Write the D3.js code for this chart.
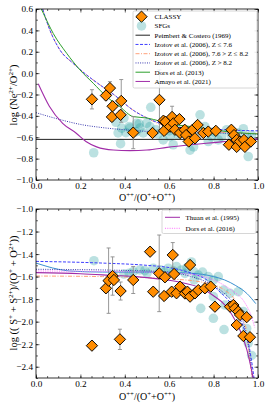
<!DOCTYPE html>
<html>
<head>
<meta charset="utf-8">
<script src="https://cdn.jsdelivr.net/npm/d3@7"></script>
<style>
body { margin: 0; background: #fff; }
text { font-family: "Liberation Serif", "DejaVu Serif", serif; }
</style>
</head>
<body>
<div id="chart"></div>
<script>
// ---------- top panel: log(Ne2+/O2+) ----------
var neClassyX = [0.252, 0.315, 0.333, 0.345, 0.342, 0.381, 0.384, 0.438, 0.525, 0.556, 0.574, 0.577, 0.583, 0.604, 0.613, 0.619, 0.626, 0.646, 0.649, 0.67, 0.676, 0.688, 0.705, 0.716, 0.728, 0.754, 0.776, 0.81, 0.869, 0.88, 0.892, 0.904, 0.904, 0.919, 0.937, 0.941, 0.968]
var neClassyY = [-0.245, -0.21, -0.14, -0.31, -0.41, -0.39, -0.26, -0.557, -0.56, -0.25, -0.445, -0.54, -0.455, -0.50, -0.41, -0.47, -0.53, -0.43, -0.56, -0.53, -0.58, -0.64, -0.53, -0.61, -0.485, -0.56, -0.547, -0.54, -0.67, -0.53, -0.58, -0.625, -0.69, -0.64, -0.625, -0.69, -0.64]
var neClassyErr = [0.09, 0.04, 0.06, 0.04, 0.04, 0.04, 0.2, 0.15, 0.03, 0.28, 0.03, 0.03, 0.03, 0.03, 0.1, 0.03, 0.03, 0.03, 0.03, 0.03, 0.03, 0.03, 0.03, 0.03, 0.03, 0.03, 0.03, 0.03, 0.03, 0.03, 0.03, 0.03, 0.03, 0.03, 0.03, 0.03, 0.03]

var neSfgX = [0.26, 0.36, 0.386, 0.405, 0.381, 0.42, 0.396, 0.37, 0.423, 0.453, 0.465, 0.468, 0.483, 0.498, 0.513, 0.517, 0.54, 0.588, 0.604, 0.573, 0.618, 0.64, 0.679, 0.694, 0.71, 0.739, 0.761, 0.776, 0.79, 0.821, 0.836, 0.859, 0.88, 0.911, 0.934, 0.956, 0.971, 0.95, 0.66, 0.72, 0.55, 0.60, 0.45, 0.63, 0.80]
var neSfgY = [-0.745, -0.46, -0.515, -0.557, -0.66, -0.50, -0.42, -0.56, -0.515, -0.47, -0.475, -0.515, -0.56, -0.47, -0.50, -0.32, -0.53, -0.50, -0.595, -0.625, -0.67, -0.58, -0.58, -0.72, -0.69, -0.39, -0.50, -0.64, -0.595, -0.625, -0.595, -0.53, -0.58, -0.56, -0.52, -0.78, -0.58, -0.60, -0.55, -0.55, -0.57, -0.54, -0.55, -0.51, -0.55]

var peimbertX = [0, 1]
var peimbertY = [-0.62, -0.62]
var izLowX = [0.03, 0.063, 0.108, 0.168, 0.228, 0.288, 0.35, 0.44, 0.50, 0.56, 0.62, 0.70, 0.80, 0.90, 1.0]
var izLowY = [0.6, 0.40, 0.216, 0.09, -0.017, -0.11, -0.2, -0.35, -0.42, -0.47, -0.50, -0.515, -0.525, -0.535, -0.54]
var izMidX = [0.03, 0.063, 0.108, 0.168, 0.228, 0.288, 0.35, 0.44, 0.50, 0.56, 0.62, 0.70, 0.80, 0.90, 1.0]
var izMidY = [0.6, 0.40, 0.216, 0.09, -0.017, -0.11, -0.2, -0.35, -0.42, -0.48, -0.52, -0.54, -0.55, -0.56, -0.565]
var izHighX = [0, 0.1, 0.2, 0.3, 0.4, 0.5, 0.6, 0.8, 1.0]
var izHighY = [-0.37, -0.43, -0.48, -0.51, -0.53, -0.545, -0.55, -0.56, -0.57]
var dors13X = [0.024, 0.033, 0.078, 0.138, 0.198, 0.258, 0.318, 0.378, 0.438, 0.50, 0.56, 0.634, 0.70, 0.87, 1.0]
var dors13Y = [0.6, 0.56, 0.37, 0.186, 0.03, -0.095, -0.22, -0.314, -0.407, -0.42, -0.45, -0.485, -0.50, -0.55, -0.57]
var amayoX = [0.01, 0.06, 0.12, 0.18, 0.225, 0.273, 0.348, 0.423, 0.50, 0.59, 0.70, 0.80, 0.90, 1.0]
var amayoY = [-0.10, -0.31, -0.47, -0.56, -0.64, -0.69, -0.72, -0.725, -0.72, -0.695, -0.67, -0.65, -0.63, -0.615]

// ---------- bottom panel: log((S+ + S2+)/(O+ + O2+)) ----------
var sClassyX = [0.252, 0.315, 0.327, 0.345, 0.351, 0.378, 0.381, 0.438, 0.514, 0.528, 0.555, 0.577, 0.581, 0.616, 0.622, 0.611, 0.633, 0.649, 0.671, 0.682, 0.694, 0.694, 0.716, 0.731, 0.761, 0.787, 0.806, 0.874, 0.889, 0.896, 0.911, 0.919, 0.949, 0.904, 0.934, 0.964]
var sClassyY = [-2.213, -1.704, -1.636, -1.595, -1.63, -2.157, -1.728, -1.63, -1.379, -1.734, -1.571, -1.772, -1.606, -1.408, -1.577, -1.734, -1.748, -1.689, -1.75, -1.734, -1.497, -1.778, -1.749, -1.72, -1.704, -1.689, -1.867, -1.867, -1.852, -1.882, -1.911, -1.94, -1.96, -2.03, -2.127, -2.138]
var sClassyErr = [0.03, 0.03, 0.29, 0.17, 0.03, 0.09, 0.08, 0.12, 0.03, 0.03, 0.34, 0.03, 0.03, 0.11, 0.03, 0.03, 0.03, 0.03, 0.03, 0.03, 0.03, 0.03, 0.03, 0.03, 0.03, 0.03, 0.03, 0.03, 0.03, 0.03, 0.03, 0.03, 0.03, 0.03, 0.03, 0.03]

var sSfgX = [0.261, 0.396, 0.348, 0.42, 0.438, 0.468, 0.49, 0.528, 0.56, 0.596, 0.633, 0.656, 0.671, 0.70, 0.71, 0.731, 0.712, 0.776, 0.799, 0.821, 0.845, 0.874, 0.911, 0.934, 0.949, 0.956, 0.971, 0.742, 0.799, 0.847, 0.799, 0.851, 0.62, 0.68, 0.75, 0.58, 0.50]
var sSfgY = [-1.459, -1.577, -1.586, -1.57, -1.556, -1.541, -1.547, -1.526, -1.54, -1.526, -1.511, -1.541, -1.571, -1.47, -1.556, -1.586, -1.63, -1.60, -1.63, -1.60, -1.72, -1.748, -1.734, -1.911, -2.06, -2.19, -2.30, -1.882, -1.97, -2.07, -1.778, -1.852, -1.55, -1.52, -1.56, -1.56, -1.57]

var thuanX = [0, 0.2, 0.35, 0.45, 0.55, 0.65, 0.74, 0.80, 0.85, 0.88, 0.92, 0.95, 0.97, 0.978]
var thuanY = [-1.565, -1.575, -1.59, -1.60, -1.62, -1.65, -1.70, -1.77, -1.85, -1.93, -2.08, -2.25, -2.42, -2.5]
var dors16X = [0, 0.5, 0.7, 0.8, 0.88, 0.94, 0.97, 0.985]
var dors16Y = [-1.55, -1.56, -1.58, -1.63, -1.72, -1.83, -1.95, -2.05]
var steelX = [0, 0.05, 0.1, 0.15, 0.3, 0.5, 0.7, 0.8, 0.85, 0.9, 0.95, 0.99]
var steelY = [-1.48, -1.51, -1.535, -1.55, -1.56, -1.56, -1.57, -1.60, -1.63, -1.68, -1.75, -1.84]
var sIzLowX = [0, 0.3, 0.5, 0.6, 0.7, 0.77, 0.82, 0.87, 0.91, 0.94, 0.96, 0.975, 0.982]
var sIzLowY = [-1.465, -1.48, -1.50, -1.52, -1.57, -1.63, -1.72, -1.82, -1.94, -2.08, -2.22, -2.40, -2.5]
var sIzHighX = [0, 0.4, 0.6, 0.7, 0.8, 0.86, 0.9, 0.93, 0.95, 0.965, 0.975]
var sIzHighY = [-1.535, -1.545, -1.56, -1.60, -1.68, -1.77, -1.86, -1.98, -2.14, -2.32, -2.5]
var sIzMidX = [0, 0.3, 0.6, 0.75, 0.85, 0.9, 0.93, 0.95, 0.967, 0.975]
var sIzMidY = [-1.595, -1.60, -1.62, -1.65, -1.72, -1.82, -1.95, -2.10, -2.40, -2.5]

var W = 269, H = 404
var left = 36, right = 258

var svg = d3.select("#chart").append("svg")
    .attr("width", W).attr("height", H)
    .style("font-family", '"Liberation Serif", serif')

function zip(xs, ys) { return xs.map(function(x, i) { return [x, ys[i]] }) }

function panel(top, bottom, yDomain, yMajor, id) {
    var x = d3.scaleLinear().domain([0, 1]).range([left, right])
    var y = d3.scaleLinear().domain(yDomain).range([bottom, top])
    var g = svg.append("g")

    g.append("clipPath").attr("id", id)
        .append("rect").attr("x", left).attr("y", top)
        .attr("width", right - left).attr("height", bottom - top)

    var plot = g.append("g").attr("clip-path", "url(#" + id + ")")

    // ticks (inward, all four sides)
    var fmt = d3.format(".1f")
    var xMajor = d3.range(0, 1.0001, 0.2)
    var xMinor = d3.range(0, 1.0001, 0.05)
    var yMinor = d3.range(yDomain[0], yDomain[1] + 0.0001, 0.1)

    g.append("g").attr("transform", "translate(0," + bottom + ")")
        .call(d3.axisBottom(x).tickValues(xMinor).tickSize(-2).tickFormat(""))
    g.append("g").attr("transform", "translate(0," + bottom + ")")
        .call(d3.axisBottom(x).tickValues(xMajor).tickSize(-3.5).tickPadding(2).tickFormat(fmt))
    g.append("g").attr("transform", "translate(0," + top + ")")
        .call(d3.axisTop(x).tickValues(xMinor).tickSize(-2).tickFormat(""))
    g.append("g").attr("transform", "translate(0," + top + ")")
        .call(d3.axisTop(x).tickValues(xMajor).tickSize(-3.5).tickFormat(""))
    g.append("g").attr("transform", "translate(" + left + ",0)")
        .call(d3.axisLeft(y).tickValues(yMinor).tickSize(-2).tickFormat(""))
    g.append("g").attr("transform", "translate(" + left + ",0)")
        .call(d3.axisLeft(y).tickValues(yMajor).tickSize(-3.5).tickPadding(3).tickFormat(fmt))
    g.append("g").attr("transform", "translate(" + right + ",0)")
        .call(d3.axisRight(y).tickValues(yMinor).tickSize(-2).tickFormat(""))
    g.append("g").attr("transform", "translate(" + right + ",0)")
        .call(d3.axisRight(y).tickValues(yMajor).tickSize(-3.5).tickFormat(""))

    g.selectAll(".domain").remove()
    g.selectAll(".tick line").attr("stroke", "#000").attr("stroke-width", 0.6)
    g.selectAll(".tick text").attr("font-size", 9.2).attr("fill", "#000")
        .attr("font-family", '"Liberation Serif", serif')

    g.append("rect").attr("x", left).attr("y", top)
        .attr("width", right - left).attr("height", bottom - top)
        .attr("fill", "none").attr("stroke", "#000").attr("stroke-width", 0.8)

    return { x: x, y: y, g: g, plot: plot }
}

function drawLine(p, xs, ys, color, dash, width) {
    var line = d3.line().x(function(d) { return p.x(d[0]) }).y(function(d) { return p.y(d[1]) })
        .curve(d3.curveMonotoneX)
    p.plot.append("path").datum(zip(xs, ys))
        .attr("d", line).attr("fill", "none")
        .attr("stroke", color).attr("stroke-width", width || 1)
        .attr("stroke-dasharray", dash || null)
}

function drawSfg(p, xs, ys) {
    p.plot.append("g").selectAll("circle").data(zip(xs, ys)).enter().append("circle")
        .attr("cx", function(d) { return p.x(d[0]) })
        .attr("cy", function(d) { return p.y(d[1]) })
        .attr("r", 4.8)
        .attr("fill", "#1f9a9a").attr("fill-opacity", 0.3)
}

function drawClassy(p, xs, ys, errs) {
    var data = xs.map(function(x, i) { return { x: x, y: ys[i], e: errs[i] } })
    var eb = p.plot.append("g").attr("stroke", "#8c8c8c").attr("stroke-width", 0.9)
    data.forEach(function(d) {
        var cx = p.x(d.x), y0 = p.y(d.y - d.e), y1 = p.y(d.y + d.e)
        eb.append("line").attr("x1", cx).attr("x2", cx).attr("y1", y0).attr("y2", y1)
        eb.append("line").attr("x1", cx - 2).attr("x2", cx + 2).attr("y1", y0).attr("y2", y0)
        eb.append("line").attr("x1", cx - 2).attr("x2", cx + 2).attr("y1", y1).attr("y2", y1)
    })
    p.plot.append("g").selectAll("path").data(data).enter().append("path")
        .attr("d", d3.symbol().type(d3.symbolSquare).size(64))
        .attr("transform", function(d) { return "translate(" + p.x(d.x) + "," + p.y(d.y) + ") rotate(45)" })
        .attr("fill", "#ff8c00").attr("stroke", "#000").attr("stroke-width", 0.9)
}

// ---------- top panel ----------
var p1 = panel(9, 180, [-1.0, 0.6], d3.range(-1.0, 0.6001, 0.2), "clipTop")
drawSfg(p1, neSfgX, neSfgY)
drawLine(p1, peimbertX, peimbertY, "#222", null, 1)
drawLine(p1, izMidX, izMidY, "#ffa07a", "4,1.5,1,1.5", 1)
drawLine(p1, izLowX, izLowY, "#3f3fff", "3,1.5", 1)
drawLine(p1, izHighX, izHighY, "#3a3ab0", "1,1.3", 1)
drawLine(p1, dors13X, dors13Y, "#2ca02c", null, 1)
drawLine(p1, amayoX, amayoY, "#a02ca8", null, 1.1)
drawClassy(p1, neClassyX, neClassyY, neClassyErr)

// ---------- bottom panel ----------
var p2 = panel(209, 378, [-2.5, -1.0], d3.range(-2.4, -0.9999, 0.2), "clipBottom")
drawSfg(p2, sSfgX, sSfgY)
drawLine(p2, sIzMidX, sIzMidY, "#ffa07a", "4,1.5,1,1.5", 1)
drawLine(p2, steelX, steelY, "#3a8fd0", null, 1)
drawLine(p2, sIzLowX, sIzLowY, "#3f3fff", "3,1.5", 1)
drawLine(p2, sIzHighX, sIzHighY, "#3a3ab0", "1,1.3", 1)
drawLine(p2, dors16X, dors16Y, "#ff6bff", "1,1.3", 1)
drawLine(p2, thuanX, thuanY, "#a02ca8", null, 1.1)
drawClassy(p2, sClassyX, sClassyY, sClassyErr)

// ---------- axis labels ----------
function supLabel(parent, parts, size) {
    var t = parent.append("text").attr("font-size", size).attr("fill", "#000")
        .attr("text-anchor", "middle")
    var up = false
    parts.forEach(function(pt) {
        var s = t.append("tspan").text(pt[0])
        if (pt[1] === "sup") {
            s.attr("font-size", size * 0.68).attr("dy", up ? 0 : -size * 0.38)
            up = true
        } else if (up) {
            s.attr("dy", size * 0.38)
            up = false
        }
    })
    return t
}

var xl = [["O"], ["++", "sup"], ["/(O"], ["+", "sup"], ["+O"], ["++", "sup"], [")"]]
supLabel(svg.append("g").attr("transform", "translate(147,200.5)"), xl, 10)
supLabel(svg.append("g").attr("transform", "translate(147,399.5)"), xl, 10)

supLabel(svg.append("g").attr("transform", "translate(16.5,95) rotate(-90)"),
    [["log (Ne"], ["2+", "sup"], ["/O"], ["2+", "sup"], [")"]], 10.5)
supLabel(svg.append("g").attr("transform", "translate(16.5,293) rotate(-90)"),
    [["log (( S"], ["+", "sup"], [" + S"], ["2+", "sup"], [")/(O"], ["+", "sup"], [" + O"], ["2+", "sup"], ["))"]], 10.5)

// ---------- legends ----------
function legendBox(x0, y0, w, h) {
    svg.append("rect").attr("x", x0).attr("y", y0).attr("width", w).attr("height", h)
        .attr("rx", 1.5).attr("fill", "#fff").attr("fill-opacity", 0.85)
        .attr("stroke", "#cccccc").attr("stroke-width", 0.8)
}

var topLabels = ["CLASSY", "SFGs", "Peimbert & Costero (1969)", "Izotov et al. (2006), Z \u2264 7.6",
    "Izotov et al. (2006), 7.6 > Z \u2264 8.2", "Izotov et al. (2006), Z > 8.2", "Dors et al. (2013)", "Amayo et al. (2021)"]
var topStyles = [null, null, ["#222", null], ["#3f3fff", "3,1.5"], ["#ffa07a", "4,1.5,1,1.5"],
    ["#3a3ab0", "1,1.3"], ["#2ca02c", null], ["#a02ca8", null]]

legendBox(133, 11, 124, 77)
topLabels.forEach(function(lab, i) {
    var yy = 16.7 + i * 9.25
    if (i === 0) {
        svg.append("path").attr("d", d3.symbol().type(d3.symbolSquare).size(64))
            .attr("transform", "translate(141.5," + yy + ") rotate(45)")
            .attr("fill", "#ff8c00").attr("stroke", "#000").attr("stroke-width", 0.9)
    } else if (i === 1) {
        svg.append("circle").attr("cx", 141.5).attr("cy", yy).attr("r", 4.8)
            .attr("fill", "#1f9a9a").attr("fill-opacity", 0.3)
    } else {
        svg.append("line").attr("x1", 135.5).attr("x2", 150).attr("y1", yy).attr("y2", yy)
            .attr("stroke", topStyles[i][0]).attr("stroke-width", 1)
            .attr("stroke-dasharray", topStyles[i][1])
    }
    svg.append("text").attr("x", 154.5).attr("y", yy + 2.3).attr("font-size", 7)
        .attr("fill", "#000").text(lab)
})

var botLabels = ["Thuan et al. (1995)", "Dors et al. (2016)"]
var botStyles = [["#a02ca8", null], ["#ff6bff", "1,1.3"]]
legendBox(162, 210, 94, 23.5)
botLabels.forEach(function(lab, i) {
    var yy = 217.3 + i * 11
    svg.append("line").attr("x1", 165).attr("x2", 180).attr("y1", yy).attr("y2", yy)
        .attr("stroke", botStyles[i][0]).attr("stroke-width", 1)
        .attr("stroke-dasharray", botStyles[i][1])
    svg.append("text").attr("x", 185.5).attr("y", yy + 2.5).attr("font-size", 7)
        .attr("fill", "#000").text(lab)
})
</script>
</body>
</html>
